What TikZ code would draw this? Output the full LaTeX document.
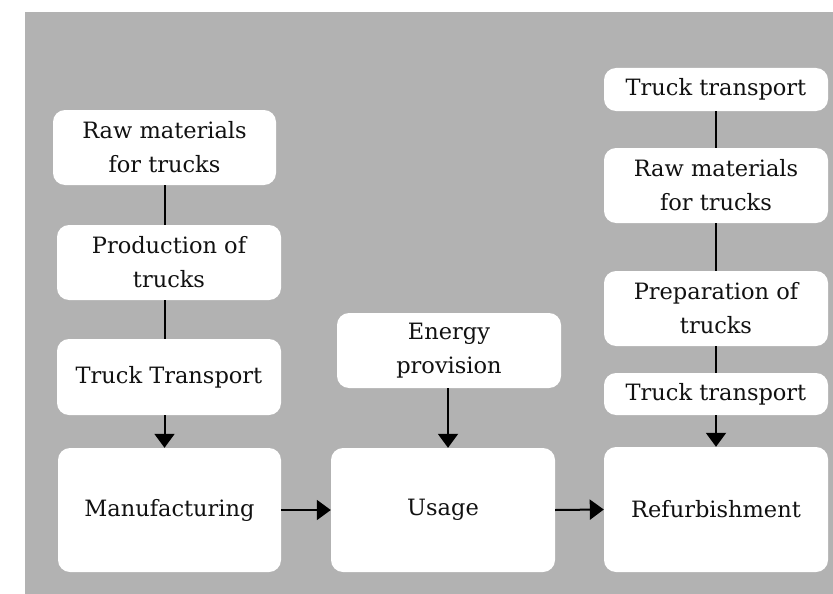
\documentclass[tikz,border=0pt]{standalone}
\usepackage{fontspec}
\setmainfont{DejaVu Serif}
\usetikzlibrary{arrows.meta}
\definecolor{panel}{HTML}{B2B2B2}
\definecolor{ink}{HTML}{111111}
\tikzset{
  box/.style={rectangle, rounded corners=12pt, fill=white, draw=none,
    text=ink, align=center, inner sep=0pt,
    font=\fontsize{22.5}{34}\selectfont},
  link/.style={draw=black, line width=2pt},
  flow/.style={link, -{Triangle[width=20pt,length=14pt]}},
}
\begin{document}
\begin{tikzpicture}[x=1pt,y=-1pt]
  \useasboundingbox (0,0) rectangle (833,594);
  \fill[panel] (25,12) rectangle (833,594);

  % supply chain for manufacturing
  \node[box, minimum width=223pt, minimum height=75pt] (raw1) at (164.5,147.5) {Raw materials\\for trucks};
  \node[box, minimum width=224pt, minimum height=75pt] (prod) at (169,262.5) {Production of\\trucks};
  \node[box, minimum width=224pt, minimum height=76pt] (tt1) at (169,377) {Truck Transport};
  \node[box, minimum width=223pt, minimum height=124pt] (manu) at (169.5,510) {Manufacturing};

  % usage phase
  \node[box, minimum width=224pt, minimum height=75pt] (energy) at (449,350.5) {Energy\\provision};
  \node[box, minimum width=224pt, minimum height=124pt] (usage) at (443,510) {Usage};

  % refurbishment chain
  \node[box, minimum width=224pt, minimum height=43pt] (tt2) at (716,89.5) {Truck transport};
  \node[box, minimum width=224pt, minimum height=75pt] (raw2) at (716,185.5) {Raw materials\\for trucks};
  \node[box, minimum width=224pt, minimum height=75pt] (prep) at (716,308.5) {Preparation of\\trucks};
  \node[box, minimum width=224pt, minimum height=42pt] (tt3) at (716,394) {Truck transport};
  \node[box, minimum width=224pt, minimum height=125pt] (refurb) at (716,509.5) {Refurbishment};

  % connectors, left column
  \draw[link] (raw1.south) -- (raw1.south |- prod.north);
  \draw[link] (prod.south -| raw1.south) -- (tt1.north -| raw1.south);
  \draw[flow] (tt1.south -| raw1.south) -- (manu.north -| raw1.south);

  % connectors, middle column
  \draw[flow] (energy.south -| 448,0) -- (usage.north -| 448,0);

  % connectors, right column
  \draw[link] (tt2.south) -- (raw2.north);
  \draw[link] (raw2.south) -- (prep.north);
  \draw[link] (prep.south) -- (tt3.north);
  \draw[flow] (tt3.south) -- (refurb.north);

  % main flow
  \draw[flow] (manu.east) -- (usage.west);
  \draw[flow] (usage.east) -- (refurb.west);
\end{tikzpicture}
\end{document}
